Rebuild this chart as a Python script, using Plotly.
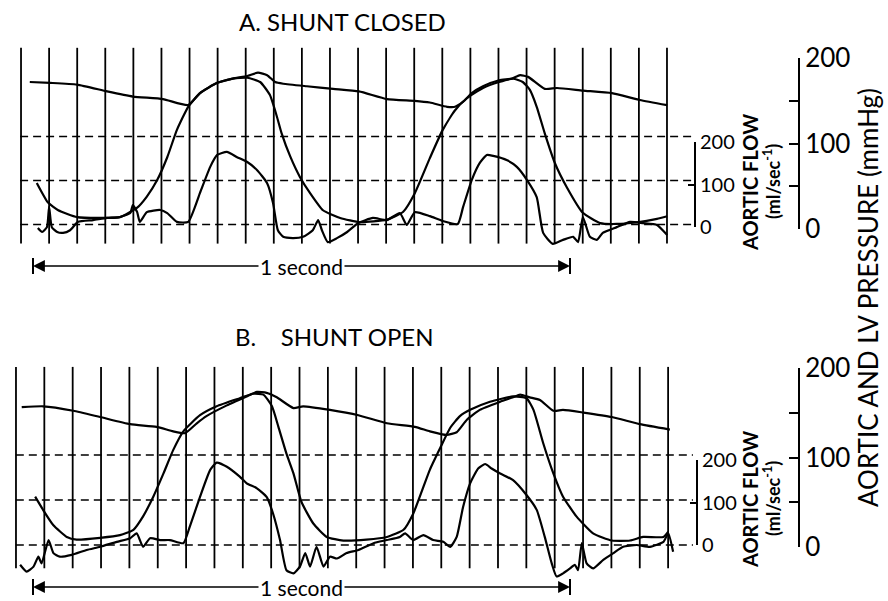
import plotly.graph_objects as go

# ---------------- DATA (time in ms from start of the "1 second" bar) ----------------
# Panel A - shunt closed
A_AO_T = [-6, 32, 82, 138, 186, 242, 289, 311, 343, 372, 399, 419, 436, 451, 466, 510, 559, 607, 659, 711,
          739, 771, 786, 801, 817, 838, 868, 892, 907, 922, 953, 976, 1024, 1078, 1130, 1181]
A_AO_P = [169, 168, 166, 158, 152, 149, 142, 156, 168, 173, 176, 180, 177, 169, 167, 164, 161, 158, 149, 147,
          145, 140, 140, 146, 156, 164, 171, 173, 177, 175, 161, 162, 159, 156, 148, 142]

A_LV_T = [7, 28, 47, 82, 125, 162, 194, 212, 231, 250, 268, 289, 311, 343, 372, 399, 423, 441, 454, 463,
          479, 497, 516, 540, 572, 609, 659, 689, 711, 739, 763, 786, 808, 838, 868, 894, 912, 925, 938, 953,
          972, 994, 1024, 1056, 1087, 1125, 1162, 1181]
A_LV_P = [51, 28, 19, 11, 10, 11, 22, 35, 54, 81, 113, 140, 156, 168, 173, 174, 169, 154, 129, 109,
          82, 58, 39, 19, 10, 5, 8, 17, 39, 80, 113, 136, 150, 162, 169, 173, 169, 160, 140, 109,
          74, 46, 16, 4, 3, 5, 9, 12]

A_FLOW_T = [9, 17, 26, 30, 35, 45, 56, 69, 84, 112, 138, 162, 181, 186, 194, 199, 212, 237, 250, 268,
            289, 311, 330, 343, 361, 380, 399, 417, 436, 447, 456, 466, 484, 503, 521, 531, 538, 549, 566, 585,
            605, 633, 659, 683, 696, 711, 739, 763, 791, 801, 817, 832, 845, 857, 883, 901, 920, 938, 950, 968,
            987, 1006, 1015, 1024, 1037, 1050, 1061, 1087, 1112, 1136, 1162, 1181]
A_FLOW_F = [-8, -17, -6, 40, -6, -17, -19, -13, 6, 10, 15, 17, 26, 44, 28, 6, 28, 33, 26, 6,
            6, 72, 131, 158, 165, 153, 142, 124, 94, 49, -13, -28, -31, -28, -13, 10, -13, -40, -31, -17,
            3, 15, 10, 26, -1, 28, 19, 8, 1, 40, 101, 140, 158, 156, 146, 131, 101, 62, -19, -44,
            -35, -28, -40, 17, -28, -35, -19, -6, 6, 3, -1, -24]

# Panel B - shunt open
B_AO_T = [-21, 19, 75, 125, 181, 230, 261, 283, 305, 323, 361, 398, 417, 435, 454, 485, 503, 553, 606, 659,
          711, 739, 770, 789, 808, 832, 870, 894, 907, 925, 944, 969, 987, 1025, 1078, 1130, 1186]
B_AO_P = [154, 155, 150, 143, 135, 132, 127, 125, 136, 144, 156, 166, 171, 170, 165, 153, 155, 151, 145, 136,
          132, 127, 123, 126, 140, 151, 160, 165, 168, 165, 162, 150, 151, 148, 143, 135, 129]

B_LV_T = [4, 19, 38, 63, 81, 125, 162, 187, 205, 224, 243, 261, 280, 311, 342, 385, 410, 429, 445, 457,
          472, 485, 500, 522, 547, 578, 621, 659, 690, 708, 727, 739, 758, 777, 795, 814, 851, 894, 919, 932,
          950, 969, 987, 1012, 1043, 1078, 1112, 1136, 1174, 1183]
B_LV_P = [54, 39, 22, 9, 6, 8, 11, 17, 32, 54, 80, 106, 127, 145, 155, 164, 169, 168, 155, 132,
          102, 80, 48, 24, 9, 5, 6, 9, 17, 35, 65, 84, 108, 131, 144, 151, 160, 166, 164, 151,
          114, 80, 54, 32, 13, 5, 5, 9, 9, 15]

B_FLOW_T = [-24, -12, 1, 10, 16, 29, 38, 50, 72, 100, 125, 156, 181, 193, 205, 218, 237, 255, 280, 292,
            311, 330, 342, 361, 385, 398, 417, 435, 447, 460, 472, 485, 497, 507, 516, 528, 541, 553, 566, 584,
            606, 634, 659, 683, 693, 708, 727, 745, 764, 777, 789, 801, 814, 829, 842, 854, 870, 894, 919, 938,
            953, 966, 975, 987, 1000, 1009, 1015, 1022, 1031, 1043, 1062, 1081, 1099, 1124, 1149, 1174, 1183, 1192]
B_FLOW_F = [-44, -59, -48, -26, -41, 11, -18, -26, -22, -11, -4, 7, 15, 26, -4, 15, 11, 11, 4, 41,
            107, 167, 183, 174, 152, 137, 126, 107, 70, 11, -56, -63, -48, -18, -48, -4, -48, -26, -30, -18,
            -11, 4, 11, 18, 26, 11, 22, 11, 7, -4, 18, 85, 137, 170, 180, 170, 159, 144, 111, 78,
            18, -41, -70, -63, -52, -44, -56, 4, -41, -52, -33, -18, -4, 0, -4, 7, 26, -15]

# Chart-paper grid (time markers) and reference levels
A_GRID = dict(start=-22.3, step=52.3, count=24, top=209, bottom=-20)     # pressure units
B_GRID = dict(start=-31.7, step=52.8, count=24, top=199, bottom=-26)
FLOW_LEVELS = [0, 100, 200]
A_DASH_SPAN = [-24, 1229]
B_DASH_SPAN = [-32, 1229]
PRESSURE_TICKS = [0, 50, 100, 150, 200]
PRESSURE_TICKTEXT = ["0", "", "100", "", "200"]
FLOW_TICKS = [0, 100, 200]
SECOND_SPAN = [0, 1000]

# ---------------- LAYOUT GEOMETRY ----------------
W, H = 888, 601
PX_T0 = 33.0
PX_PER_MS = 0.537
FONT = "Lato"


def dom(top_px, bot_px):
    return [1 - bot_px / H, 1 - top_px / H]


def rng(top_px, bot_px, zero_px, px_per_unit):
    return [(zero_px - bot_px) / px_per_unit, (zero_px - top_px) / px_per_unit]


def py(px):
    return 1 - px / H


x_range = [(0 - PX_T0) / PX_PER_MS, (W - PX_T0) / PX_PER_MS]

A_TOP, A_BOT = 35, 255
B_TOP, B_BOT = 352, 585

fig = go.Figure()
LW = 2.2


def grid_trace(g, yaxis):
    xs, ys = [], []
    for k in range(g["count"]):
        t = g["start"] + k * g["step"]
        xs += [t, t, None]
        ys += [g["bottom"], g["top"], None]
    return go.Scatter(x=xs, y=ys, mode="lines", line=dict(color="black", width=1.8),
                      xaxis="x", yaxis=yaxis, hoverinfo="skip", showlegend=False)


def dash_trace(span, yaxis):
    xs, ys = [], []
    for lv in FLOW_LEVELS:
        xs += [span[0], span[1], None]
        ys += [lv, lv, None]
    return go.Scatter(x=xs, y=ys, mode="lines",
                      line=dict(color="black", width=1.7, dash="8px,5px"),
                      xaxis="x", yaxis=yaxis, hoverinfo="skip", showlegend=False)


def curve(t, v, yaxis, name):
    return go.Scatter(x=t, y=v, mode="lines", name=name,
                      line=dict(color="black", width=LW, shape="spline", smoothing=0.5),
                      xaxis="x", yaxis=yaxis, showlegend=False)


# Panel A
fig.add_trace(grid_trace(A_GRID, "y"))
fig.add_trace(dash_trace(A_DASH_SPAN, "y2"))
fig.add_trace(curve(A_AO_T, A_AO_P, "y", "Aortic pressure"))
fig.add_trace(curve(A_LV_T, A_LV_P, "y", "LV pressure"))
fig.add_trace(curve(A_FLOW_T, A_FLOW_F, "y2", "Aortic flow"))
# Panel B
fig.add_trace(grid_trace(B_GRID, "y3"))
fig.add_trace(dash_trace(B_DASH_SPAN, "y4"))
fig.add_trace(curve(B_AO_T, B_AO_P, "y3", "Aortic pressure"))
fig.add_trace(curve(B_LV_T, B_LV_P, "y3", "LV pressure"))
fig.add_trace(curve(B_FLOW_T, B_FLOW_F, "y4", "Aortic flow"))

# invisible anchors for the ruler axes
for ax_id, ticks in [("y5", PRESSURE_TICKS), ("y6", FLOW_TICKS), ("y7", PRESSURE_TICKS), ("y8", FLOW_TICKS)]:
    fig.add_trace(go.Scatter(x=[SECOND_SPAN[0]] * len(ticks), y=ticks, mode="markers",
                             marker=dict(opacity=0), xaxis="x", yaxis=ax_id,
                             hoverinfo="skip", showlegend=False))

hidden = dict(visible=False, showgrid=False, zeroline=False, automargin=False)


def ruler(domain, pos, ticks, ticktext, size, ticklen):
    return dict(domain=domain, range=[0, 200], anchor="free", position=pos, side="right",
                showline=True, linecolor="black", linewidth=2, ticks="inside", ticklen=ticklen,
                tickwidth=2, tickcolor="black", tickvals=ticks, ticktext=ticktext,
                tickfont=dict(family=FONT, size=size, color="black"), automargin=False,
                showgrid=False, zeroline=False, fixedrange=True)


fig.update_layout(
    width=W, height=H, margin=dict(l=0, r=0, t=0, b=0, pad=0, autoexpand=False),
    paper_bgcolor="white", plot_bgcolor="rgba(0,0,0,0)", showlegend=False,
    xaxis=dict(domain=[0, 1], range=x_range, **hidden),
    yaxis=dict(domain=dom(A_TOP, A_BOT), range=rng(A_TOP, A_BOT, 226.5, 0.855), **hidden),
    yaxis2=dict(overlaying="y", range=rng(A_TOP, A_BOT, 224.5, 0.44), **hidden),
    yaxis3=dict(domain=dom(B_TOP, B_BOT), range=rng(B_TOP, B_BOT, 545, 0.895), **hidden),
    yaxis4=dict(overlaying="y3", range=rng(B_TOP, B_BOT, 545, 0.45), **hidden),
    yaxis5=ruler(dom(58, 229), 799 / W, PRESSURE_TICKS, PRESSURE_TICKTEXT, 26, 9),
    yaxis6=ruler(dom(142, 227), 695 / W, FLOW_TICKS, [str(v) for v in FLOW_TICKS], 20, 6),
    yaxis7=ruler(dom(368, 547), 799 / W, PRESSURE_TICKS, PRESSURE_TICKTEXT, 26, 9),
    yaxis8=ruler(dom(460, 545), 697 / W, FLOW_TICKS, [str(v) for v in FLOW_TICKS], 20, 6),
    font=dict(family=FONT, color="black"),
)

ann = []
shapes = []
# panel titles
ann.append(dict(text="A.\u00a0SHUNT CLOSED", x=237 / W, y=py(22), xref="paper", yref="paper",
                xanchor="left", yanchor="middle", showarrow=False, font=dict(size=24)))
ann.append(dict(text="B.\u00a0\u00a0\u00a0\u00a0SHUNT OPEN", x=233 / W, y=py(337), xref="paper", yref="paper",
                xanchor="left", yanchor="middle", showarrow=False, font=dict(size=24)))

# flow axis titles
for cy in (183, 500):
    ann.append(dict(text="<b>AORTIC FLOW</b>", x=750 / W, y=py(cy), xref="paper", yref="paper",
                    xanchor="center", yanchor="middle",
                    textangle=-90, showarrow=False, font=dict(size=20)))
    ann.append(dict(text="<b>(ml/sec<sup>-1</sup>)</b>", x=772 / W, y=py(cy - 1), xref="paper", yref="paper",
                    xanchor="center", yanchor="middle",
                    textangle=-90, showarrow=False, font=dict(size=18)))

# big pressure title
ann.append(dict(text="AORTIC AND LV PRESSURE (mmHg)", x=868 / W, y=py(298), xref="paper", yref="paper",
                xanchor="center", yanchor="middle",
                textangle=-90, showarrow=False, font=dict(size=26)))

# 1 second markers
mid = (SECOND_SPAN[0] + SECOND_SPAN[1]) / 2
for ypx in (266, 587):
    for end, col in ((SECOND_SPAN[0], "black"), (SECOND_SPAN[1], "rgba(0,0,0,0)")):
        ann.append(dict(text="1 second", x=end, y=py(ypx), xref="x", yref="paper",
                        ax=mid, axref="x", ay=0, ayref="pixel", showarrow=True,
                        arrowhead=2, arrowsize=1.4, arrowwidth=1.7, arrowcolor="black",
                        font=dict(size=21, color=col)))
        shapes.append(dict(type="line", xref="x", yref="paper", x0=end, x1=end,
                           y0=py(ypx + 8), y1=py(ypx - 8), line=dict(color="black", width=2)))

fig.update_layout(annotations=ann, shapes=shapes)
fig.write_html("out.html", config={"displayModeBar": False},
               post_script="document.body.style.margin='0px';document.body.style.overflow='hidden';")
